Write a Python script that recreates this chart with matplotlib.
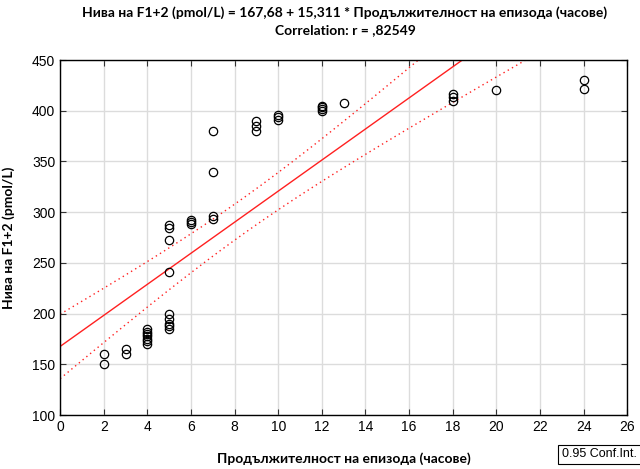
import numpy as np
import matplotlib
matplotlib.use("Agg")
import matplotlib.pyplot as plt

hours = [2, 2, 3, 3,
         4, 4, 4, 4, 4, 4, 4,
         5, 5, 5, 5, 5, 5, 5, 5, 5,
         6, 6, 6,
         7, 7, 7, 7,
         9, 9, 9,
         10, 10, 10,
         12, 12, 12, 12,
         13,
         18, 18, 18,
         20,
         24, 24]
levels = [160, 150, 165, 160,
          170, 173, 175, 178, 180, 182, 185,
          185, 188, 190, 195, 200, 241, 273, 284, 287,
          288, 290, 292,
          380, 340, 293, 296,
          380, 385, 390,
          391, 394, 396,
          400, 402, 404, 405,
          408,
          410, 414, 417,
          420,
          421, 430]
intercept = 167.68
slope = 15.311
xticks = list(range(0, 27, 2))
yticks = list(range(100, 451, 50))

hfont = 'Lato'

x = np.array(hours, float)
y = np.array(levels, float)
n = len(x)
xm = x.mean()
sxx = ((x - xm) ** 2).sum()
resid = y - (intercept + slope * x)
s = np.sqrt((resid ** 2).sum() / (n - 2))
tval = 2.018
xs = np.linspace(0, 26, 300)
yh = intercept + slope * xs
half = tval * s * np.sqrt(1 / n + (xs - xm) ** 2 / sxx)

fig = plt.figure(figsize=(6.4, 4.69), dpi=100)
ax = fig.add_axes([0.094, 0.115, 0.886, 0.757])
ax.grid(True, color='#dcdcdc', linewidth=1)
ax.set_axisbelow(True)
ax.plot(xs, yh, color='#ff2020', linewidth=1)
ax.plot(xs, yh + half, color='#ff2020', linewidth=1, linestyle=(0, (1, 2.5)))
ax.plot(xs, yh - half, color='#ff2020', linewidth=1, linestyle=(0, (1, 2.5)))
ax.plot(x, y, linestyle='none', marker='o', markersize=6, markerfacecolor='none',
        markeredgecolor='black', markeredgewidth=0.9)
ax.set_xlim(0, 26)
ax.set_ylim(100, 450)
ax.set_xticks(xticks)
ax.set_yticks(yticks)
ax.tick_params(direction='in', top=True, right=True, length=4, labelsize=10, width=0.8, color='#333333')
for lab in ax.get_xticklabels() + ax.get_yticklabels():
    lab.set_fontfamily('Liberation Sans')
for sp in ax.spines.values():
    sp.set_linewidth(1)
ax.set_xlabel('Продължителност на епизода (часове)', fontsize=10, fontweight='bold',
              family=hfont, labelpad=13)
ax.set_ylabel('Нива на F1+2 (pmol/L)', fontsize=10, fontweight='bold', family=hfont, labelpad=12)
fig.text(0.539, 0.972, 'Нива на F1+2 (pmol/L) = 167,68 + 15,311 * Продължителност на епизода (часове)',
         ha='center', va='center', fontsize=10, fontweight='bold', family=hfont)
fig.text(0.539, 0.935, 'Correlation: r = ,82549', ha='center', va='center', fontsize=10,
         fontweight='bold', family=hfont)
fig.text(0.937, 0.031, '0.95 Conf.Int.', ha='center', va='center', fontsize=9, family='Liberation Sans',
         bbox=dict(boxstyle='square,pad=0.3', facecolor='white', edgecolor='black', linewidth=0.8))
fig.savefig('out.png', dpi=100)
